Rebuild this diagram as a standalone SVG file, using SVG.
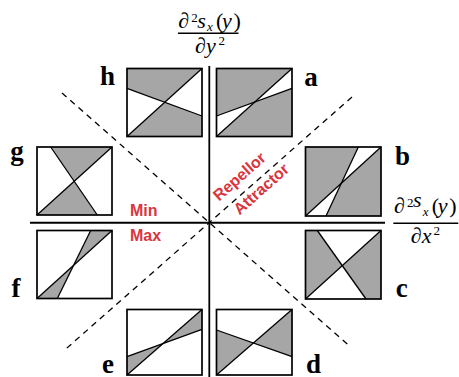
<svg xmlns="http://www.w3.org/2000/svg" width="459" height="377" viewBox="0 0 459 377">
<style>
.frame{fill:none;stroke:#000;stroke-width:1.7}
.ln{stroke:#000;stroke-width:1.3;fill:none}
.g{fill:#a6a6a6}
.w{fill:#fff}
.lbl{font-family:"Liberation Serif",serif;font-weight:bold;font-size:27px;text-anchor:middle;fill:#000}
.red{font-family:"Liberation Sans",Arial,sans-serif;font-weight:bold;font-size:16px;fill:#d93640}
.math{font-family:"Liberation Serif",serif;font-style:italic;font-size:22px;fill:#000}
.sm{font-size:13px}
.up{font-style:normal}
.dash{stroke:#000;stroke-width:1.3;stroke-dasharray:6 5;fill:none}
.axis{stroke:#000;fill:none}
</style>
<rect width="459" height="377" fill="#fff"/>
<g id="connectors">
<line class="dash" x1="62" y1="93" x2="350" y2="346.5"/>
<line class="dash" x1="352" y1="97" x2="65" y2="349.7"/>
<line class="axis" stroke-width="1.8" x1="209.3" y1="66" x2="209.3" y2="377"/>
<line class="axis" stroke-width="2" x1="30" y1="222.7" x2="385" y2="222.7"/>
</g>
<g id="axis-y-label">
<text class="math" y="28.3"><tspan x="178.3">∂</tspan><tspan x="191.2" y="21.5" class="sm up">2</tspan><tspan x="197.3" y="28.3">s</tspan><tspan x="207" y="31" class="sm">x</tspan><tspan x="216" y="28.3" class="up">(</tspan><tspan x="222">y</tspan><tspan x="233.5" class="up">)</tspan></text>
<line class="axis" stroke-width="1.5" x1="178" y1="33.3" x2="238.5" y2="33.3"/>
<text class="math" y="53.3"><tspan x="195">∂</tspan><tspan x="206">y</tspan><tspan x="218.5" y="45" class="sm up">2</tspan></text>
</g>
<g id="axis-x-label">
<text class="math" y="213.3"><tspan x="394">∂</tspan><tspan x="406.9" y="206.5" class="sm up">2</tspan><tspan x="413">s</tspan><tspan x="422.7" y="216" class="sm">x</tspan><tspan x="431.7" y="213.3" class="up">(</tspan><tspan x="437.7">y</tspan><tspan x="449.2" class="up">)</tspan></text>
<line class="axis" stroke-width="1.5" x1="393.3" y1="223.3" x2="458.3" y2="223.3"/>
<text class="math" y="243.3"><tspan x="410.7">∂</tspan><tspan x="421.7">x</tspan><tspan x="433.5" y="235" class="sm up">2</tspan></text>
</g>
<g id="region-labels">
<text class="red" x="130" y="216">Min</text>
<text class="red" x="130" y="240.7">Max</text>
<text class="red" text-anchor="middle" transform="translate(243,180.5) rotate(-41.5)">Repellor</text>
<text class="red" text-anchor="middle" transform="translate(264.8,193) rotate(-41.5)">Attractor</text>
</g>
<g id="node-a">
<rect class="g" x="216.5" y="68.5" width="75.5" height="68"/>
<polygon class="w" points="216.5,116 254.9,101.9 216.5,136.5"/>
<polygon class="w" points="254.9,101.9 292,68.5 292,88.3"/>
<line class="ln" x1="216.5" y1="136.5" x2="292" y2="68.5"/>
<line class="ln" x1="216.5" y1="116" x2="292" y2="88.3"/>
<rect class="frame" x="216.5" y="68.5" width="75.5" height="68"/>
<text class="lbl" x="311" y="86">a</text>
</g>
<g id="node-b">
<rect class="g" x="305.5" y="147" width="75.5" height="69"/>
<polygon class="w" points="358.3,147 381,147 341.33,183.25"/>
<polygon class="w" points="305.5,216 326,216 341.33,183.25"/>
<line class="ln" x1="305.5" y1="216" x2="381" y2="147"/>
<line class="ln" x1="358.3" y1="147" x2="326" y2="216"/>
<rect class="frame" x="305.5" y="147" width="75.5" height="69"/>
<text class="lbl" x="402.5" y="165">b</text>
</g>
<g id="node-c">
<rect class="w" x="305.5" y="230.5" width="75.5" height="68.5"/>
<polygon class="g" points="305.5,230.5 317.3,230.5 342.28,265.63 305.5,299"/>
<polygon class="g" points="381,230.5 381,299 366,299 342.28,265.63"/>
<line class="ln" x1="305.5" y1="299" x2="381" y2="230.5"/>
<line class="ln" x1="317.3" y1="230.5" x2="366" y2="299"/>
<rect class="frame" x="305.5" y="230.5" width="75.5" height="68.5"/>
<text class="lbl" x="401.7" y="296.7">c</text>
</g>
<g id="node-d">
<rect class="w" x="216.5" y="309.5" width="75.5" height="65.5"/>
<polygon class="g" points="216.5,330 253.35,343.03 216.5,375"/>
<polygon class="g" points="292,309.5 292,356.7 253.35,343.03"/>
<line class="ln" x1="216.5" y1="375" x2="292" y2="309.5"/>
<line class="ln" x1="216.5" y1="330" x2="292" y2="356.7"/>
<rect class="frame" x="216.5" y="309.5" width="75.5" height="65.5"/>
<text class="lbl" x="313.5" y="372.5">d</text>
</g>
<g id="node-e">
<rect class="w" x="127" y="309.5" width="75" height="65.5"/>
<polygon class="g" points="202,309.5 202,329.3 163,343.54"/>
<polygon class="g" points="127,356.7 163,343.54 127,375"/>
<line class="ln" x1="127" y1="375" x2="202" y2="309.5"/>
<line class="ln" x1="127" y1="356.7" x2="202" y2="329.3"/>
<rect class="frame" x="127" y="309.5" width="75" height="65.5"/>
<text class="lbl" x="108" y="372.5">e</text>
</g>
<g id="node-f">
<rect class="w" x="37" y="230.5" width="75" height="68"/>
<polygon class="g" points="90.7,230.5 112,230.5 73.59,265.32"/>
<polygon class="g" points="37,298.5 57.3,298.5 73.59,265.32"/>
<line class="ln" x1="37" y1="298.5" x2="112" y2="230.5"/>
<line class="ln" x1="90.7" y1="230.5" x2="57.3" y2="298.5"/>
<rect class="frame" x="37" y="230.5" width="75" height="68"/>
<text class="lbl" x="16" y="296.7">f</text>
</g>
<g id="node-g">
<rect class="w" x="37" y="147" width="75" height="68"/>
<polygon class="g" points="50.7,147 112,147 74.19,181.28"/>
<polygon class="g" points="37,215 97.3,215 74.19,181.28"/>
<line class="ln" x1="37" y1="215" x2="112" y2="147"/>
<line class="ln" x1="50.7" y1="147" x2="97.3" y2="215"/>
<rect class="frame" x="37" y="147" width="75" height="68"/>
<text class="lbl" x="17" y="160">g</text>
</g>
<g id="node-h">
<rect class="g" x="127" y="68.5" width="75" height="68"/>
<polygon class="w" points="127,88.3 164.8,102.25 127,136.5"/>
<polygon class="w" points="164.8,102.25 202,68.5 202,116"/>
<line class="ln" x1="127" y1="136.5" x2="202" y2="68.5"/>
<line class="ln" x1="127" y1="88.3" x2="202" y2="116"/>
<rect class="frame" x="127" y="68.5" width="75" height="68"/>
<text class="lbl" x="107.5" y="85">h</text>
</g>
</svg>
